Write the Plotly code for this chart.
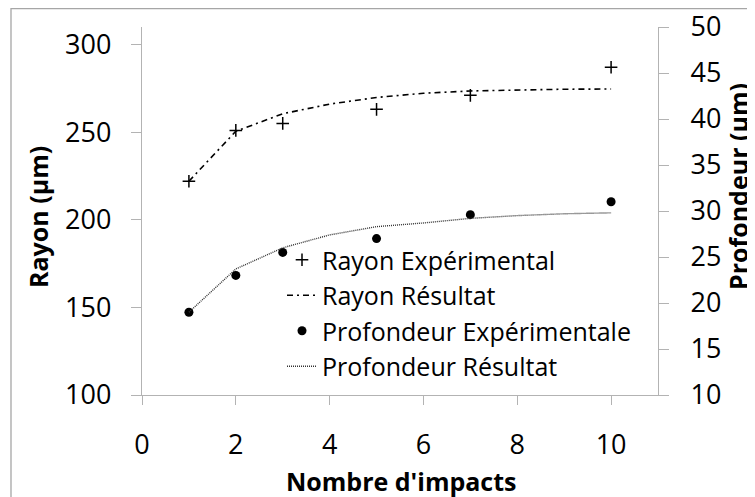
import plotly.graph_objects as go

# measured points
X_EXP = [1, 2, 3, 5, 7, 10]
RAYON_EXP = [222, 251, 255, 263, 271, 287]
PROF_EXP = [19, 23, 25.5, 27, 29.6, 31]

# model curves
X_RES = [1, 2, 3, 4, 5, 6, 7, 8, 9, 10]
RAYON_RES = [222, 250.5, 260.5, 266, 269.8, 272.2, 273.5, 274.2, 274.5, 274.6]
PROF_RES = [19, 23.7, 26.0, 27.4, 28.3, 28.7, 29.2, 29.5, 29.7, 29.8]

FONT = "Open Sans"
AX = "#b3b3b3"
# page body has an 8px margin, so the figure is laid out 8px up/left of the screen
W, H = 747, 489
L, T = 134, 19
PW, PH = 516, 368
R, B = W - L - PW, H - T - PH


def px(sx):   # screen x -> paper x
    return (sx - 8 - L) / PW


def py(sy):   # screen y -> paper y
    return (T + PH - (sy - 8)) / PH


fig = go.Figure()
fig.add_trace(go.Scatter(x=X_EXP, y=RAYON_EXP, mode="markers", name="Rayon Expérimental",
                         legendgroup="a",
                         marker=dict(symbol="cross-thin", size=9, line=dict(color="black", width=1.5))))
fig.add_trace(go.Scatter(x=X_RES, y=RAYON_RES, mode="lines", name="Rayon Résultat",
                         legendgroup="b",
                         line=dict(color="black", width=1.6, dash="6px,4px,2px,4px")))
fig.add_trace(go.Scatter(x=X_EXP, y=PROF_EXP, mode="markers", name="Profondeur Expérimentale",
                         legendgroup="c", yaxis="y2",
                         marker=dict(symbol="circle", size=9, color="black")))
fig.add_trace(go.Scatter(x=X_RES, y=PROF_RES, mode="lines", name="Profondeur Résultat",
                         legendgroup="d", yaxis="y2",
                         line=dict(color="#333333", width=1.4, dash="1px,1px")))

tickfont = dict(family=FONT, size=27, color="black")
titlefont = dict(family=FONT, size=25, color="black")
fig.update_layout(
    width=W, height=H, margin=dict(l=L, r=R, t=T, b=B),
    paper_bgcolor="white", plot_bgcolor="white",
    font=tickfont,
    xaxis=dict(range=[0, 11], tick0=0, dtick=2, showgrid=False, zeroline=False, automargin=False,
               showline=True, linecolor=AX, linewidth=1.3, ticks="outside", ticklen=9,
               tickcolor=AX, tickwidth=1.3, ticklabelstandoff=16, tickfont=tickfont,
               ticklabeloverflow="allow"),
    yaxis=dict(range=[100, 310], tick0=100, dtick=50, showgrid=False, zeroline=False, automargin=False,
               showline=True, linecolor=AX, linewidth=1.3, ticks="outside", ticklen=10,
               tickcolor=AX, tickwidth=1.3, ticklabelstandoff=14, tickfont=tickfont,
               ticklabeloverflow="allow"),
    yaxis2=dict(range=[10, 50], tick0=10, dtick=5, overlaying="y", side="right", automargin=False,
                showgrid=False, zeroline=False, showline=True, linecolor=AX, linewidth=1.3,
                ticks="outside", ticklen=10, tickcolor=AX, tickwidth=1.3, ticklabelstandoff=16,
                tickfont=tickfont, ticklabeloverflow="allow"),
    legend=dict(x=px(282), y=py(237), xanchor="left", yanchor="top",
                bgcolor="rgba(0,0,0,0)", font=dict(family=FONT, size=25, color="black"),
                tracegroupgap=0, itemwidth=30),
    showlegend=True,
)

# axis titles
fig.add_annotation(text="<b>Nombre d'impacts</b>", x=px(401), y=py(481), xref="paper", yref="paper",
                   showarrow=False, font=titlefont, xanchor="center", yanchor="middle")
fig.add_annotation(text="<b>Rayon (µm)</b>", x=px(38), y=py(217), xref="paper", yref="paper",
                   showarrow=False, font=titlefont, textangle=-90, xanchor="center", yanchor="middle")
fig.add_annotation(text="<b>Profondeur (µm)</b>", x=px(738), y=py(187), xref="paper", yref="paper",
                   showarrow=False, font=titlefont, textangle=-90, xanchor="center", yanchor="middle")

# chart frame (only left/top visible in the original crop)
fig.add_shape(type="rect", xref="paper", yref="paper",
              x0=px(11), x1=px(770), y0=py(510), y1=py(8.7),
              line=dict(color="#a6a6a6", width=1.3), layer="below")

fig.write_html("out.html")
